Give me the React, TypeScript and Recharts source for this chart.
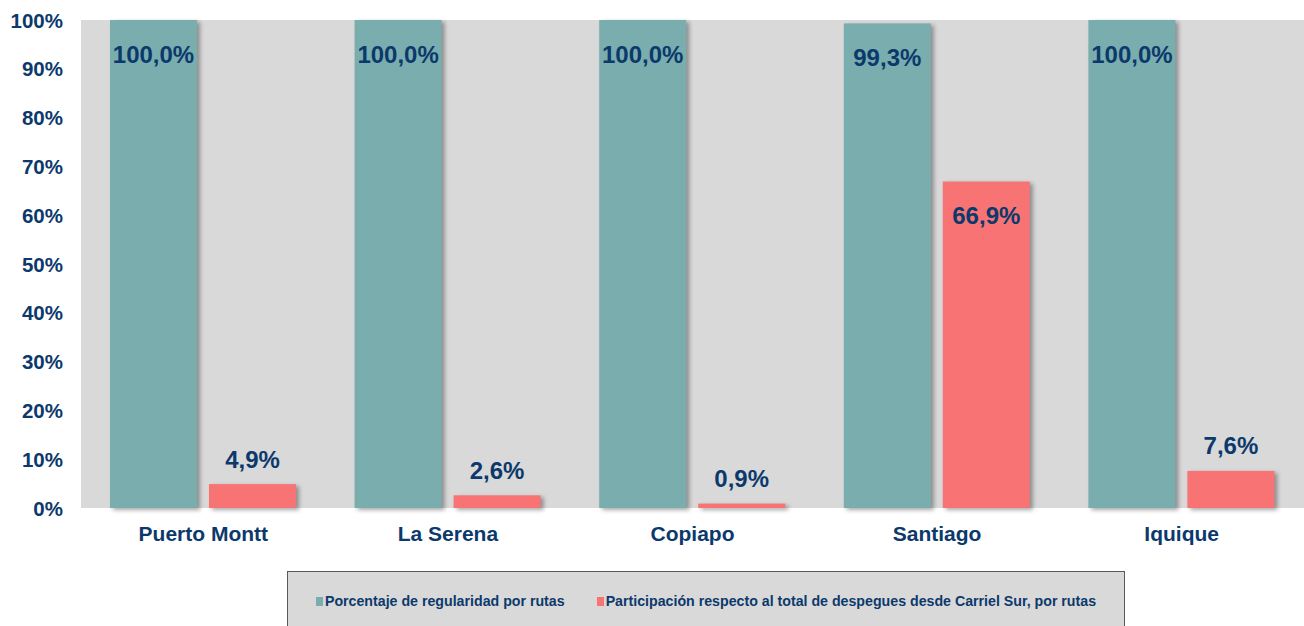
import React from 'react';
import { BarChart, Bar, XAxis, YAxis, CartesianGrid, LabelList, Legend } from 'recharts';

const categories = ['Puerto Montt', 'La Serena', 'Copiapo', 'Santiago', 'Iquique'];
const regularidad = [100.0, 100.0, 100.0, 99.3, 100.0];
const participacion = [4.9, 2.6, 0.9, 66.9, 7.6];
const yTicks = [0, 10, 20, 30, 40, 50, 60, 70, 80, 90, 100];
const seriesNames = ['Porcentaje de regularidad por rutas', 'Participación respecto al total de despegues desde Carriel Sur, por rutas'];

const data = categories.map((c, i) => ({ name: c, reg: regularidad[i], part: participacion[i] }));

const NAVY = '#0c396c';
const TEAL = '#7aadad';
const SALMON = '#f87474';
const FONT = '"Liberation Sans", Arial, sans-serif';

const fmt = (v: number) => v.toFixed(1).replace('.', ',') + '%';

const ShadowBar = (props: any) => {
  const { x, y, width, height, fill } = props;
  if (!height || height <= 0) return null;
  return (
    <rect x={x} y={y} width={width} height={height} fill={fill}
      style={{ filter: 'drop-shadow(3px 2px 2px rgba(0,0,0,0.35))' }} />
  );
};

const regLabel = (props: any) => {
  const { x, y, width, value } = props;
  return (
    <text x={x + width / 2} y={y + 34} textAnchor="middle" dominantBaseline="central"
      fill={NAVY} fontFamily={FONT} fontWeight="bold" fontSize={24}>{fmt(value)}</text>
  );
};

const partLabel = (props: any) => {
  const { x, y, width, value } = props;
  const inside = value > 20;
  return (
    <text x={x + width / 2} y={inside ? y + 34 : y - 25} textAnchor="middle" dominantBaseline="central"
      fill={NAVY} fontFamily={FONT} fontWeight="bold" fontSize={24}>{fmt(value)}</text>
  );
};

const XTick = (props: any) => {
  const { x, payload } = props;
  return (
    <text x={x} y={533} textAnchor="middle" dominantBaseline="central"
      fill={NAVY} fontFamily={FONT} fontWeight="bold" fontSize={21}>{payload.value}</text>
  );
};

const YTick = (props: any) => {
  const { x, y, payload } = props;
  return (
    <text x={x} y={y} textAnchor="end" dominantBaseline="central"
      fill={NAVY} fontFamily={FONT} fontWeight="bold" fontSize={20.5}>{payload.value + '%'}</text>
  );
};

const LegendContent = () => (
  <div style={{
    boxSizing: 'border-box', width: '100%', height: '100%', background: '#d9d9d9',
    border: '1px solid #595959', display: 'flex', alignItems: 'center', justifyContent: 'center',
    fontFamily: FONT, fontWeight: 'bold', fontSize: 14.2, color: NAVY, paddingBottom: 0,
  }}>
    {[TEAL, SALMON].map((c, i) => (
      <div key={i} style={{ display: 'flex', alignItems: 'center', marginRight: i === 0 ? 32 : 0 }}>
        <span style={{ display: 'inline-block', width: 7, height: 9, background: c, marginRight: 2 }} />
        <span>{seriesNames[i]}</span>
      </div>
    ))}
  </div>
);

export default function App() {
  return (
    <div style={{ position: 'absolute', left: 0, top: 0 }}>
      <BarChart width={1304} height={626} data={data}
        margin={{ top: 20, right: 0, left: 0, bottom: 88 }}
        barGap={12} barSize={87}>
        <CartesianGrid fill="#d9d9d9" stroke="none" horizontal={false} vertical={false} />
        <XAxis dataKey="name" axisLine={false} tickLine={false} tick={<XTick />} interval={0} height={30} />
        <YAxis width={81} domain={[0, 100]} ticks={yTicks} axisLine={false} tickLine={false}
          tickSize={0} tickMargin={18} tick={<YTick />} interval={0} />
        <Legend layout="horizontal" verticalAlign="middle" content={<LegendContent />}
          wrapperStyle={{ position: 'absolute', left: 287, top: 571, width: 838, height: 60 }} />
        <Bar dataKey="reg" name={seriesNames[0]} fill={TEAL} shape={<ShadowBar />} isAnimationActive={false}>
          <LabelList dataKey="reg" content={regLabel} />
        </Bar>
        <Bar dataKey="part" name={seriesNames[1]} fill={SALMON} shape={<ShadowBar />} isAnimationActive={false}>
          <LabelList dataKey="part" content={partLabel} />
        </Bar>
      </BarChart>
    </div>
  );
}
